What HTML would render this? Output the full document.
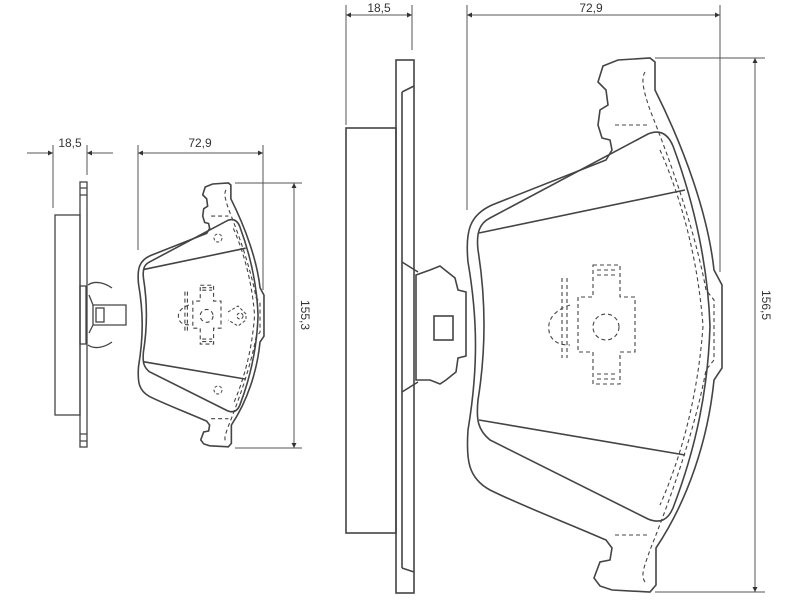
<!DOCTYPE html>
<html><head><meta charset="utf-8"><style>
html,body{margin:0;padding:0;background:#fff}
svg{display:block}
text{font-family:"Liberation Sans",sans-serif;font-size:12px;fill:#333}
</style></head><body>
<svg width="800" height="600" viewBox="0 0 800 600" xmlns="http://www.w3.org/2000/svg">
<defs>
<marker id="a" viewBox="0 0 10 10" refX="10" refY="5" markerWidth="9" markerHeight="5" orient="auto-start-reverse" markerUnits="userSpaceOnUse"><path d="M0,0 L10,5 L0,10 z" fill="#333"/></marker>
<g id="pad" fill="none" stroke="#444" stroke-width="1.6">
<path vector-effect="non-scaling-stroke" d="M603,66 L618,60 L650,58 L655,62 L655,90 C685,150 708,215 714,270 L722,285 L722,368 L714,380 C708,440 688,500 656,548 L656,585 L650,592 L612,590 L600,586 L594,578 L600,562 L610,560 L612,548 L606,540 C560,520 520,505 490,490 C468,478 466,460 468,430 C478,370 478,320 468,262 C465,230 470,215 492,205 L606,160 L612,150 L610,140 L602,138 L598,125 L600,110 L608,105 L606,90 L598,82 Z"/>
<path vector-effect="non-scaling-stroke" d="M490,218 L648,134 C660,129 668,134 673,146 C696,208 708,270 710,326 C708,390 696,448 673,508 C668,520 660,524 648,519 L490,440 C478,430 476,420 478,400 C486,350 486,300 478,250 C476,232 480,223 490,218 Z"/>
<line vector-effect="non-scaling-stroke" x1="479" y1="233" x2="685" y2="190"/>
<line vector-effect="non-scaling-stroke" x1="479" y1="420" x2="685" y2="455"/>
<g stroke-dasharray="4,3" stroke-width="1.1">
<path vector-effect="non-scaling-stroke" d="M645,72 C640,80 645,95 650,110 C670,160 695,230 706,290 L714,300 L714,360 L706,370 C695,430 670,500 650,550 C645,565 640,575 645,582"/>
<path vector-effect="non-scaling-stroke" d="M615,125 L650,125 M615,535 L650,535 M660,150 C682,200 698,260 703,326 C698,395 682,455 660,505"/>
<path vector-effect="non-scaling-stroke" d="M593,265 L620,265 L620,297 L635,297 L635,352 L620,352 L620,384 L593,384 L593,352 L578,352 L578,297 L593,297 Z"/>
<path vector-effect="non-scaling-stroke" d="M597,270 L617,270 M597,275 L617,275 M597,379 L617,379 M597,374 L617,374"/>
<path vector-effect="non-scaling-stroke" d="M562,278 L562,358 M567,278 L567,358 M570,305 C555,310 545,320 550,335 C555,345 565,345 570,345"/>
<circle vector-effect="non-scaling-stroke" cx="606" cy="327" r="13"/>
</g>
</g>
</defs>

<g fill="none" stroke="#444" stroke-width="1.6">
<rect x="346" y="128" width="50" height="405"/>
<rect x="396" y="60" width="18" height="533"/>
<path d="M402,92 L402,568 M402,92 L414,86 M402,568 L414,572"/>
<path d="M402,262 L418,272 M402,392 L418,382"/>
<path d="M416,275 L430,270 L440,266 L445,270 L455,278 L458,290 L466,292 L466,356 L458,358 L456,372 L446,380 L440,384 L430,380 L416,380 Z"/>
<rect x="434" y="316" width="19" height="24"/>
</g>
<use href="#pad"/>

<g stroke="#555" stroke-width="1" fill="none">
<line x1="346" y1="5" x2="346" y2="125"/>
<line x1="412" y1="5" x2="412" y2="50"/>
<line x1="346" y1="15" x2="412" y2="15" marker-start="url(#a)" marker-end="url(#a)"/>
<line x1="467" y1="5" x2="467" y2="210"/>
<line x1="720" y1="5" x2="720" y2="272"/>
<line x1="467" y1="15" x2="720" y2="15" marker-start="url(#a)" marker-end="url(#a)"/>
<line x1="655" y1="58" x2="765" y2="58"/>
<line x1="655" y1="592" x2="765" y2="592"/>
<line x1="755" y1="58" x2="755" y2="592" marker-start="url(#a)" marker-end="url(#a)"/>
</g>
<text x="379" y="12" text-anchor="middle">18,5</text>
<text x="591" y="12" text-anchor="middle">72,9</text>
<text transform="translate(762,305) rotate(90)" text-anchor="middle">156,5</text>

<g fill="none" stroke="#444" stroke-width="1.3">
<rect x="55" y="215" width="25" height="200"/>
<rect x="80" y="182" width="7" height="265"/>
<path d="M80,188 L87,188 M80,195 L87,195 M80,434 L87,434 M80,441 L87,441"/>
<rect x="80" y="286" width="6" height="58"/>
<path d="M88,285 C95,280 105,283 112,288 M88,345 C95,350 105,347 112,342"/>
<path d="M89,295 L93,305 L93,325 L89,333 M93,305 L126,305 L126,325 L93,325 Z"/>
<rect x="96" y="308" width="8" height="14"/>
</g>
<use href="#pad" transform="translate(138,183) scale(0.494) translate(-467,-58)"/>
<g fill="none" stroke="#444" stroke-width="1" stroke-dasharray="3,2">
<circle cx="218" cy="238" r="4"/><circle cx="218" cy="390" r="4"/>
<path d="M228,312 L238,306 L246,314 L246,320 L238,326 L228,320"/><circle cx="240" cy="316" r="3"/>
</g>

<g stroke="#555" stroke-width="1" fill="none">
<line x1="53" y1="145" x2="53" y2="208"/>
<line x1="87" y1="145" x2="87" y2="175"/>
<line x1="27" y1="153" x2="53" y2="153" marker-end="url(#a)"/>
<line x1="113" y1="153" x2="87" y2="153" marker-end="url(#a)"/>
<line x1="138" y1="145" x2="138" y2="250"/>
<line x1="263" y1="145" x2="263" y2="290"/>
<line x1="138" y1="153" x2="263" y2="153" marker-start="url(#a)" marker-end="url(#a)"/>
<line x1="235" y1="183" x2="302" y2="183"/>
<line x1="235" y1="448" x2="302" y2="448"/>
<line x1="294" y1="183" x2="294" y2="448" marker-start="url(#a)" marker-end="url(#a)"/>
</g>
<text x="70" y="147" text-anchor="middle">18,5</text>
<text x="200" y="147" text-anchor="middle">72,9</text>
<text transform="translate(301,315) rotate(90)" text-anchor="middle">155,3</text>
</svg>
</body></html>
